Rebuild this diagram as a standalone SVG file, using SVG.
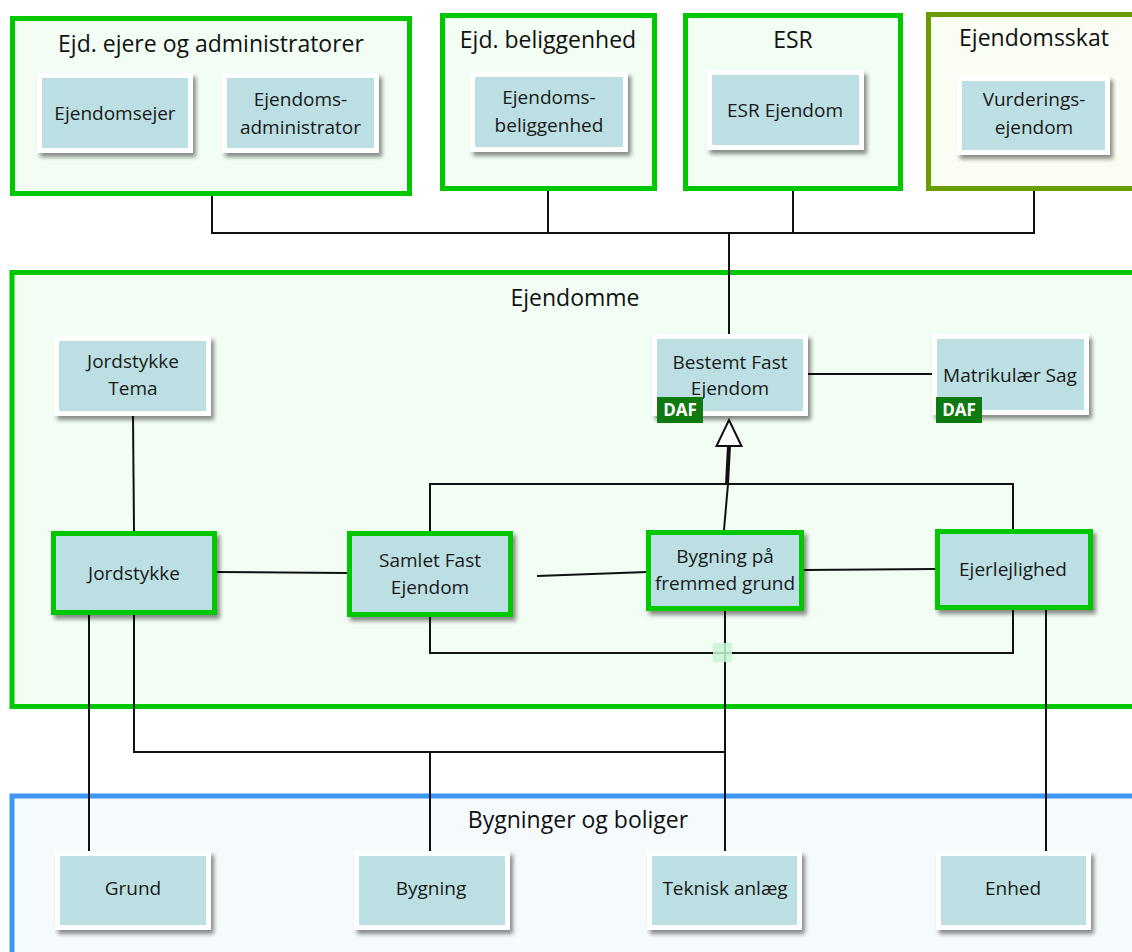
<svg xmlns="http://www.w3.org/2000/svg" width="1132" height="952" viewBox="0 0 1132 952">
<defs>
<filter id="sh" x="-10%" y="-10%" width="130%" height="140%">
<feDropShadow dx="3" dy="4" stdDeviation="2.2" flood-color="#000" flood-opacity="0.45"/>
</filter>
</defs>
<style>
.grp{fill:#f2fdf3;stroke:#00c800;stroke-width:5}
.grpo{fill:#fafdf3;stroke:#6a9c00;stroke-width:5}
.grpb{fill:#f5fafd;stroke:#3c96f2;stroke-width:5}
.title{font-family:"Open Sans","Liberation Sans",sans-serif;font-size:23px;fill:#111;text-anchor:middle}
.bx{fill:#bbdfe2;stroke:#fff;stroke-width:5;filter:url(#sh)}
.gb{fill:#bbdfe2;stroke:#00c800;stroke-width:5;filter:url(#sh)}
.t{font-family:"Open Sans","Liberation Sans",sans-serif;font-size:19px;fill:#1a1a1a;text-anchor:middle}
.daf{fill:#0f7a10}
.daft{font-family:"Open Sans","Liberation Sans",sans-serif;font-size:17px;font-weight:bold;fill:#fff;text-anchor:middle}
.ln{fill:none;stroke:#111;stroke-width:2}
</style>

<g id="grp-ejere">
<rect class="grp" x="12.5" y="18.5" width="397" height="175"/>
<text class="title" x="211" y="52">Ejd. ejere og administratorer</text>
</g>
<g id="grp-beliggenhed">
<rect class="grp" x="442.5" y="15.5" width="212" height="173"/>
<text class="title" x="548" y="48">Ejd. beliggenhed</text>
</g>
<g id="grp-esr">
<rect class="grp" x="685.5" y="15.5" width="215" height="173"/>
<text class="title" x="793" y="48">ESR</text>
</g>
<g id="grp-ejendomsskat">
<rect class="grpo" x="928.5" y="14.5" width="220" height="174"/>
<text class="title" x="1034" y="46">Ejendomsskat</text>
</g>
<g id="grp-ejendomme">
<rect class="grp" x="12" y="272.5" width="1135" height="434"/>
<text class="title" x="575" y="306">Ejendomme</text>
</g>
<g id="grp-bygninger">
<rect class="grpb" x="12" y="796" width="1135" height="170"/>
<text class="title" x="578" y="828">Bygninger og boliger</text>
</g>

<g id="connectors">
<path class="ln" d="M212 196V233H1034V191M548 191V233M793 191V233"/>
<path class="ln" d="M729 233V334" stroke-width="2.5"/>
<path class="ln" d="M808 374H932"/>
<path class="ln" d="M133 416L134 531"/>
<path class="ln" d="M217 572L347 573"/>
<path class="ln" d="M537 576L647 572"/>
<path class="ln" d="M804 570L935 569"/>
<path class="ln" d="M430 531V484H1013V529"/>
<path class="ln" d="M728 484L724 530"/>
<path d="M729 446L727 484" stroke="#111" stroke-width="4" fill="none"/>
<polygon points="729,420 741.5,446 716.5,446" fill="#fff" stroke="#111" stroke-width="2"/>
<path class="ln" d="M430 617V653H1013V610"/>
<path class="ln" d="M725 611V851"/>
<rect x="713" y="643" width="19" height="19" fill="#c8f5d6" opacity="0.85"/>
<path class="ln" d="M89 615V851"/>
<path class="ln" d="M134 615V752H725"/>
<path class="ln" d="M430 752V851"/>
<path class="ln" d="M1046 610V851"/>
</g>

<g id="n-ejendomsejer">
<rect class="bx" x="39.5" y="75.5" width="151" height="75"/>
<text class="t" x="115" y="120">Ejendomsejer</text>
</g>
<g id="n-ejendomsadministrator">
<rect class="bx" x="224.5" y="75.5" width="152" height="75"/>
<text class="t" x="300.5" y="106">Ejendoms-</text>
<text class="t" x="300.5" y="134">administrator</text>
</g>
<g id="n-ejendomsbeliggenhed">
<rect class="bx" x="472.5" y="74.5" width="153" height="75"/>
<text class="t" x="549" y="104">Ejendoms-</text>
<text class="t" x="549" y="132">beliggenhed</text>
</g>
<g id="n-esr-ejendom">
<rect class="bx" x="709.5" y="72.5" width="152" height="75"/>
<text class="t" x="785" y="117">ESR Ejendom</text>
</g>
<g id="n-vurderingsejendom">
<rect class="bx" x="959.5" y="78.5" width="148" height="74"/>
<text class="t" x="1034" y="106">Vurderings-</text>
<text class="t" x="1034" y="134">ejendom</text>
</g>

<g id="n-jordstykke-tema">
<rect class="bx" x="56.5" y="338.5" width="152" height="75"/>
<text class="t" x="133" y="368">Jordstykke</text>
<text class="t" x="133" y="395">Tema</text>
</g>
<g id="n-bestemt-fast-ejendom">
<rect class="bx" x="654.5" y="336.5" width="151" height="77"/>
<text class="t" x="730" y="369">Bestemt Fast</text>
<text class="t" x="730" y="395">Ejendom</text>
<rect class="daf" x="657" y="397" width="46" height="26"/>
<text class="daft" x="680" y="416">DAF</text>
</g>
<g id="n-matrikulaer-sag">
<rect class="bx" x="934.5" y="336.5" width="152" height="76"/>
<text class="t" x="1010" y="382">Matrikulær Sag</text>
<rect class="daf" x="936" y="397" width="46" height="26"/>
<text class="daft" x="959" y="416">DAF</text>
</g>
<g id="n-jordstykke">
<rect class="gb" x="53.5" y="533.5" width="161" height="79"/>
<text class="t" x="134" y="580">Jordstykke</text>
</g>
<g id="n-samlet-fast-ejendom">
<rect class="gb" x="349.5" y="533.5" width="161" height="81"/>
<text class="t" x="430" y="567">Samlet Fast</text>
<text class="t" x="430" y="594">Ejendom</text>
</g>
<g id="n-bygning-paa-fremmed-grund">
<rect class="gb" x="648.5" y="532.5" width="153" height="76"/>
<text class="t" x="725" y="563">Bygning på</text>
<text class="t" x="725" y="590">fremmed grund</text>
</g>
<g id="n-ejerlejlighed">
<rect class="gb" x="937.5" y="531.5" width="153" height="76"/>
<text class="t" x="1013" y="576">Ejerlejlighed</text>
</g>

<g id="n-grund">
<rect class="bx" x="57.5" y="853.5" width="151" height="74"/>
<text class="t" x="133" y="895">Grund</text>
</g>
<g id="n-bygning">
<rect class="bx" x="356.5" y="853.5" width="151" height="74"/>
<text class="t" x="431" y="895">Bygning</text>
</g>
<g id="n-teknisk-anlaeg">
<rect class="bx" x="649.5" y="853.5" width="150" height="74"/>
<text class="t" x="725" y="895">Teknisk anlæg</text>
</g>
<g id="n-enhed">
<rect class="bx" x="938.5" y="853.5" width="150" height="74"/>
<text class="t" x="1013" y="895">Enhed</text>
</g>
</svg>
